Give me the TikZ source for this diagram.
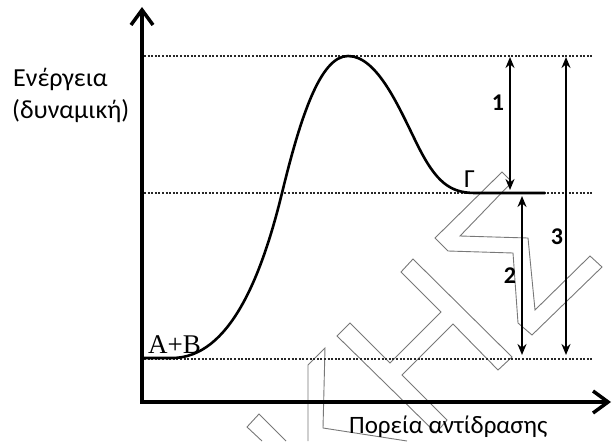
\documentclass[tikz,border=0pt]{standalone}
\usepackage{fontspec}
\setmainfont{Carlito}
\newfontfamily\serifAB{Liberation Serif}
\usetikzlibrary{arrows.meta}
\begin{document}
\begin{tikzpicture}[x=1pt,y=-1pt,
  lbl/.style={inner sep=0pt, anchor=base west, font=\fontsize{26}{30}\selectfont},
  num/.style={inner sep=0pt, font=\bfseries\fontsize{24}{28}\selectfont},
  dots/.style={line width=2.5pt, dash pattern=on 2pt off 1.6pt, draw={rgb,255:red,40;green,40;blue,40}},
  dimarrow/.style={line width=1.8pt, {Stealth[length=11pt,width=9pt]}-{Stealth[length=11pt,width=9pt]}},
  axisline/.style={line width=3.5pt, {Straight Barb[length=15pt,width=22pt]}-{Straight Barb[length=15pt,width=22pt]}},
  wm/.style={draw={rgb,255:red,120;green,120;blue,120}, line width=0.9pt}
]
\useasboundingbox (0,0) rectangle (612,441);
% watermark
\draw[wm] (502,172) -- (435,238) -- (448,251) -- (513,253) -- (518,323) -- (532,335) -- (602,267) -- (590,256) -- (535,310) -- (528,238) -- (460,236) -- (512,182) -- cycle;
\draw[wm] (401,272) -- (413,259) -- (512,357) -- (498,370) -- (453,324) -- (402,375) -- (447,420) -- (436,433) -- (337,336) -- (350,323) -- (390,363) -- (441,312) -- cycle;
\draw[wm] (308,441) -- (308,365) -- (325,348) -- (323,428) -- (407,441);
\draw[wm] (262,441) -- (247,427) -- (259,414) -- (286,441);
% coordinates
\coordinate (ytop) at (142,7);
\coordinate (orig) at (142,402);
\coordinate (xend) at (611,402);
\coordinate (topL) at (144,56);
\coordinate (topR) at (592,56);
\coordinate (midL) at (144,193);
\coordinate (midR) at (592,193);
\coordinate (botL) at (144,359);
\coordinate (botR) at (592,359);
% dotted levels
\draw[dots] (topL) -- (topR);
\draw[dots] (midL) -- (midR);
\draw[dots] (botL) -- (botR);
% axes
\draw[axisline] (ytop) -- (orig) -- (xend);
% curve
\draw[line width=2.6pt, line join=round] (143,358) -- (172,358)
  .. controls (230,358) and (262,275) .. (282,193)
  .. controls (300,119) and (320,56) .. (348,56)
  .. controls (378,56) and (400,110) .. (418,146)
  .. controls (436,182) and (450,193) .. (475,193) -- (545,193);
% dimension arrows
\coordinate (a1t) at (510,57);
\coordinate (a1b) at (510,190);
\coordinate (a2t) at (522,196);
\coordinate (a2b) at (522,355);
\coordinate (a3t) at (566,57);
\coordinate (a3b) at (566,355);
\draw[dimarrow] (a1t) -- (a1b);
\draw[dimarrow] (a2t) -- (a2b);
\draw[dimarrow] (a3t) -- (a3b);
% labels
\node[lbl] (en) at (13,87) {Ενέργεια};
\node[lbl] (dyn) at (12,118) {(δυναμική)};
\node[lbl, font=\fontsize{25}{30}\selectfont] (por) at (349,433) {Πορεία αντίδρασης};
\node[lbl] (gam) at (464,187) {Γ};
\node[inner sep=0pt, anchor=base west, font=\serifAB\fontsize{27}{30}\selectfont] (ab) at (148,353) {A+B};
\node[num] (n1) at (498,103) {1};
\node[num] (n2) at (510,276) {2};
\node[num] (n3) at (557,237) {3};
\end{tikzpicture}
\end{document}
